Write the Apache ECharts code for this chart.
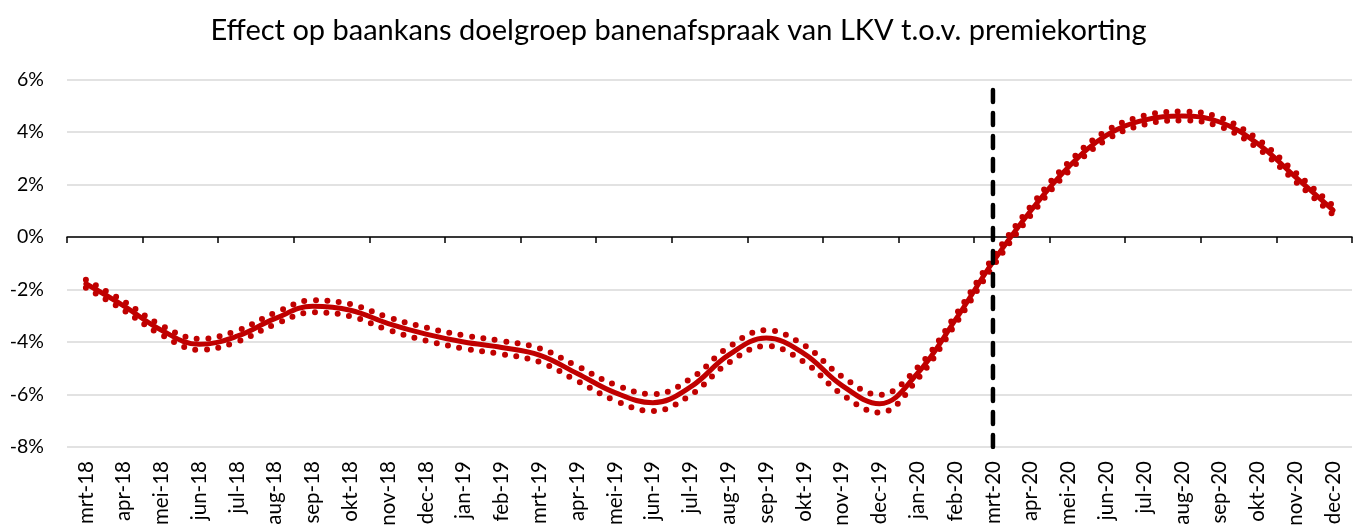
<!DOCTYPE html>
<html>
<head>
<meta charset="utf-8">
<script src="https://cdn.jsdelivr.net/npm/echarts@6/dist/echarts.min.js"></script>
<style>
html,body{margin:0;padding:0;background:#fff;}
#chart{width:1357px;height:530px;}
</style>
</head>
<body>
<div id="chart"></div>
<script>
var categories = ['mrt-18','apr-18','mei-18','jun-18','jul-18','aug-18','sep-18','okt-18','nov-18','dec-18','jan-19','feb-19','mrt-19','apr-19','mei-19','jun-19','jul-19','aug-19','sep-19','okt-19','nov-19','dec-19','jan-20','feb-20','mrt-20','apr-20','mei-20','jun-20','jul-20','aug-20','sep-20','okt-20','nov-20','dec-20'];
var effect = [-1.78,-2.62,-3.55,-4.09,-3.78,-3.11,-2.64,-2.79,-3.30,-3.70,-4.00,-4.21,-4.50,-5.20,-5.93,-6.31,-5.71,-4.50,-3.85,-4.44,-5.65,-6.35,-5.20,-3.17,-0.95,1.00,2.67,3.87,4.45,4.61,4.38,3.56,2.29,1.02];
var upperBound = [-1.63,-2.45,-3.37,-3.88,-3.57,-2.89,-2.41,-2.56,-3.06,-3.45,-3.75,-3.96,-4.24,-4.92,-5.63,-5.99,-5.40,-4.20,-3.55,-4.12,-5.31,-6.01,-4.98,-3.00,-0.78,1.17,2.84,4.04,4.62,4.78,4.55,3.73,2.46,1.19];
var lowerBound = [-1.93,-2.79,-3.73,-4.30,-3.99,-3.33,-2.87,-3.02,-3.54,-3.95,-4.25,-4.46,-4.76,-5.48,-6.23,-6.63,-6.02,-4.80,-4.15,-4.76,-5.99,-6.69,-5.42,-3.34,-1.12,0.83,2.50,3.70,4.28,4.44,4.21,3.39,2.12,0.85];
var markerMonth = 'mrt-20';
var markerRange = [-8, 5.8];
var yTicks = {min: -8, max: 6, interval: 2};
var title = 'Effect op baankans doelgroep banenafspraak van LKV t.o.v. premiekorting';

var FONT = 'Lato';
var RED = '#C00000';
var chart = echarts.init(document.getElementById('chart'), null, {renderer: 'canvas'});
chart.setOption({
  animation: false,
  backgroundColor: '#fff',
  title: {
    text: title, left: 'center', top: 11,
    textStyle: {fontFamily: FONT, fontSize: 29, fontWeight: 'normal', color: '#000'}
  },
  grid: {left: 67, right: 5, top: 79.5, bottom: 83, containLabel: false},
  xAxis: [{
    type: 'category', data: categories, boundaryGap: true, position: 'bottom',
    axisLine: {onZero: true, lineStyle: {color: '#000', width: 1.5}},
    axisTick: {show: true, length: 6, lineStyle: {color: '#000', width: 1.5}},
    axisLabel: {show: false},
    splitLine: {show: false}
  }, {
    type: 'category', data: categories, boundaryGap: true, position: 'bottom',
    axisLine: {show: false, onZero: false},
    axisTick: {show: false},
    axisLabel: {show: true, interval: 0, rotate: 90, margin: 14, fontFamily: FONT, fontSize: 20.5, color: '#000'},
    splitLine: {show: false}
  }],
  yAxis: {
    type: 'value', min: yTicks.min, max: yTicks.max, interval: yTicks.interval,
    axisLine: {show: false}, axisTick: {show: false},
    axisLabel: {formatter: '{value}%', margin: 23, fontFamily: FONT, fontSize: 19.5, color: '#000'},
    splitLine: {lineStyle: {color: '#D9D9D9', width: 1.5}}
  },
  series: [{
    name: 'upper', type: 'line', xAxisIndex: 0, data: upperBound, smooth: 0.4, symbol: 'none',
    lineStyle: {color: RED, width: 6, type: [0, 11.5], cap: 'round'}
  }, {
    name: 'lower', type: 'line', xAxisIndex: 0, data: lowerBound, smooth: 0.4, symbol: 'none',
    lineStyle: {color: RED, width: 6, type: [0, 11.5], cap: 'round'}
  }, {
    name: 'effect', type: 'line', xAxisIndex: 0, data: effect, smooth: 0.4, symbol: 'none',
    lineStyle: {color: RED, width: 5, cap: 'round'}
  }, {
    name: 'marker', type: 'line', xAxisIndex: 0, symbol: 'none',
    data: [[markerMonth, markerRange[0]], [markerMonth, markerRange[1]]],
    lineStyle: {color: '#000', width: 4.5, type: [12, 11], cap: 'round'}
  }]
});
</script>
</body>
</html>
